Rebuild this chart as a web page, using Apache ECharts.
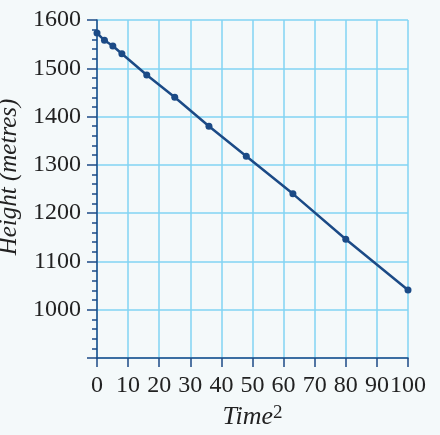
<!DOCTYPE html>
<html>
<head>
<meta charset="utf-8">
<script src="https://cdn.jsdelivr.net/npm/echarts@6/dist/echarts.min.js"></script>
<style>
  html, body { margin: 0; padding: 0; background: #f4f9fa; }
  #chart { width: 440px; height: 435px; }
</style>
</head>
<body>
<div id="chart"></div>
<script>
// time squared vs height readings
const timeSq = [0, 2.4, 5.1, 8, 16, 25, 36, 48, 63, 80, 100]
const height = [1573, 1558, 1546, 1530, 1486, 1440, 1380, 1318, 1240, 1146, 1041]

const dark = '#1b4a86'
const grid = '#82d3f3'
const serif = 'Liberation Serif'

const chart = echarts.init(document.getElementById('chart'))
chart.setOption({
  backgroundColor: '#f4f9fa',
  animation: false,
  grid: { left: 97, right: 32, top: 20, bottom: 77, outerBoundsMode: 'none' },
  xAxis: {
    type: 'value',
    min: 0,
    max: 100,
    interval: 10,
    name: '{i|Time}{s|2}',
    nameLocation: 'middle',
    nameGap: 46,
    nameTextStyle: {
      rich: {
        i: { fontFamily: serif, fontStyle: 'italic', fontSize: 26, color: '#222' },
        s: { fontFamily: serif, fontSize: 19, color: '#222', verticalAlign: 'top', padding: [0, 0, 8, 0] }
      }
    },
    axisLine: { show: true, lineStyle: { color: dark, width: 1.5 } },
    axisTick: { show: true, length: 9, lineStyle: { color: dark, width: 1.5 } },
    axisLabel: { margin: 16, fontFamily: serif, fontSize: 24, color: '#222' },
    splitLine: { show: true, lineStyle: { color: grid, width: 1.5 } }
  },
  yAxis: {
    type: 'value',
    min: 900,
    max: 1600,
    interval: 100,
    name: 'Height (metres)',
    nameLocation: 'middle',
    nameGap: 69,
    nameTextStyle: { fontFamily: serif, fontStyle: 'italic', fontSize: 25, color: '#222', padding: [0, 0, 0, 24] },
    axisLine: { show: true, lineStyle: { color: dark, width: 1.5 } },
    axisTick: { show: true, length: 10, lineStyle: { color: dark, width: 1.5 } },
    minorTick: { show: true, splitNumber: 5, length: 5, lineStyle: { color: dark, width: 1.5 } },
    axisLabel: {
      margin: 16, fontFamily: serif, fontSize: 24, color: '#222',
      formatter: v => (v === 900 ? '' : v)
    },
    splitLine: { show: true, lineStyle: { color: grid, width: 1.5 } }
  },
  series: [{
    type: 'line',
    data: timeSq.map((x, i) => [x, height[i]]),
    symbol: 'circle',
    symbolSize: 7,
    lineStyle: { color: dark, width: 2.5 },
    itemStyle: { color: dark },
    clip: false
  }]
})
</script>
</body>
</html>
